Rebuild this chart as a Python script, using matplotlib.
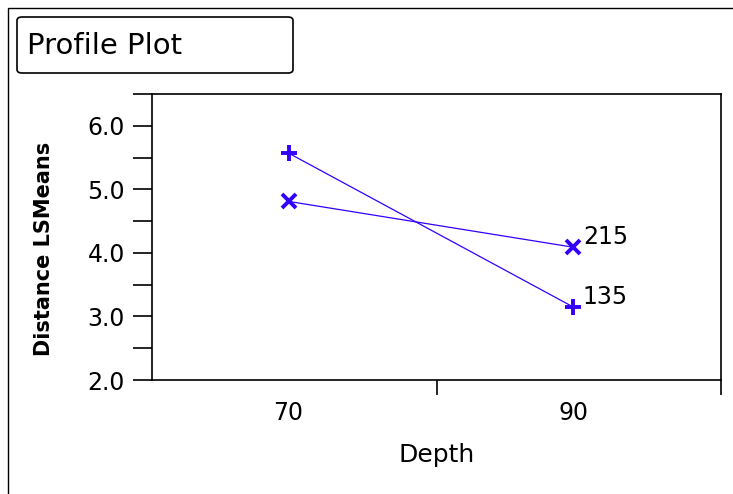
import matplotlib.pyplot as plt
from matplotlib.patches import Rectangle, FancyBboxPatch

depth = ["70", "90"]
series_names = ["135", "215"]
lsmeans_135 = [5.57, 3.15]
lsmeans_215 = [4.81, 4.09]

blue = "#3300ff"
plt.rcParams['font.family'] = ['DejaVu Sans']

fig = plt.figure(figsize=(7.33, 4.94), dpi=100)

# outer panel frame, runs off the right and bottom edges
fig.patches.append(Rectangle((7.5 / 733, -0.1), 1.2, 1 - 8.5 / 494 + 0.1,
                             transform=fig.transFigure, fill=False,
                             edgecolor="black", lw=1.0))
# title box
fig.patches.append(FancyBboxPatch((17 / 733, 1 - 73 / 494), 276 / 733, 56 / 494,
                                  boxstyle="round,pad=0,rounding_size=0.007",
                                  transform=fig.transFigure, fill=False,
                                  edgecolor="black", lw=1.2))
fig.text(27 / 733, 1 - 46 / 494, "Profile Plot", fontsize=21, va="center")

ax = fig.add_axes([152 / 733, 1 - 380 / 494, 569 / 733, 286 / 494])
xpos = [0.5, 1.5]

for vals, name, mk, ms in [(lsmeans_135, "135", "+", 12), (lsmeans_215, "215", "x", 10)]:
    ax.plot(xpos, vals, color=blue, lw=0.9, marker=mk, ms=ms, mew=2.8)
    ax.annotate(name, (xpos[-1], vals[-1]), xytext=(7, 7),
                textcoords="offset points", fontsize=17, va="center")

ax.set_xlim(0.02, 2.02)
ax.set_ylim(2.0, 6.5)
ax.set_xticks([1.02, 2.02])
ax.set_xticklabels([])
ax.set_xticks(xpos, minor=True)
ax.set_xticklabels(depth, minor=True, fontsize=17)
ax.tick_params(axis="x", which="minor", length=0, pad=15)
ax.tick_params(axis="x", which="major", length=11, width=1.2, direction="out")

ax.set_yticks([2.0, 3.0, 4.0, 5.0, 6.0])
ax.set_yticklabels(["2.0", "3.0", "4.0", "5.0", "6.0"], fontsize=17)
ax.set_yticks([2.5, 3.5, 4.5, 5.5, 6.5], minor=True)
ax.tick_params(axis="y", which="both", length=13.5, width=1.2, direction="out", pad=6)

for s in ax.spines.values():
    s.set_linewidth(1.2)

ax.set_xlabel("Depth", fontsize=18, labelpad=13)
ax.set_ylabel("Distance LSMeans", fontsize=15, fontweight="bold")
ax.yaxis.set_label_coords(-0.172, 0.46)

fig.savefig("out.png", dpi=100)
